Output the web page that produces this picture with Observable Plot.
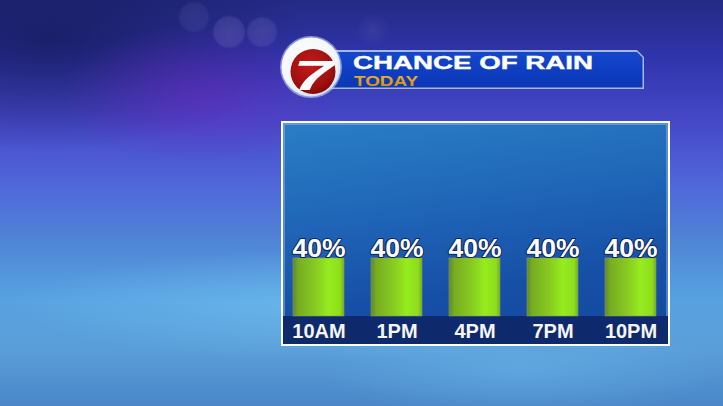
<!DOCTYPE html>
<html>
<head>
<meta charset="utf-8">
<script src="https://cdn.jsdelivr.net/npm/d3@7"></script>
<script src="https://cdn.jsdelivr.net/npm/@observablehq/plot@0.6"></script>
<style>
  html, body { margin: 0; padding: 0; }
  body { width: 723px; height: 406px; overflow: hidden; font-family: "Liberation Sans", Arial, sans-serif; }
  #stage {
    position: relative; width: 723px; height: 406px; overflow: hidden;
    background:
      radial-gradient(ellipse 17px 17px at 229px 32px, rgba(170,150,220,0.22), rgba(170,150,220,0.16) 85%, transparent 100%),
      radial-gradient(ellipse 16px 16px at 262px 32px, rgba(170,150,220,0.20), rgba(170,150,220,0.14) 85%, transparent 100%),
      radial-gradient(ellipse 16px 16px at 194px 17px, rgba(150,140,210,0.14), rgba(150,140,210,0.10) 85%, transparent 100%),
      radial-gradient(ellipse 17px 17px at 373px 30px, rgba(150,140,210,0.12), transparent 100%),
      radial-gradient(ellipse 140px 70px at 200px 95px, rgba(110,40,190,0.50), transparent),
      radial-gradient(ellipse 260px 110px at 50px 40px, rgba(15,20,70,0.6), transparent),
      radial-gradient(ellipse 320px 55px at 330px 305px, rgba(120,200,245,0.5), transparent),
      radial-gradient(ellipse 200px 50px at 520px 370px, rgba(110,190,240,0.4), transparent),
      linear-gradient(180deg, #242a84 0%, #3034aa 14%, #4648c8 30%, #5064d8 44%, #5086d6 60%, #58a2e0 74%, #5a9ed8 86%, #4a86c8 100%);
  }
  #panel {
    position: absolute; left: 281px; top: 121px; width: 389px; height: 225px;
    box-sizing: border-box; border: 2px solid #ffffff;
    background: linear-gradient(172deg, #2a7ec6 0%, #1f64b6 40%, #1650a6 70%, #1448a0 100%);
    box-shadow: inset 0 0 0 2px rgba(160,190,230,0.45);
  }
  #band {
    position: absolute; left: 0; right: 0; top: 193px; height: 28px;
    background: #0f2a6c;
  }
  #banner {
    position: absolute; left: 330px; top: 50px; width: 314px; height: 39px;
    background: #a9b8da;
    clip-path: polygon(0 0, calc(100% - 7px) 0, 100% 7px, 100% 100%, 0 100%);
  }
  #banner-inner {
    position: absolute; left: 0; top: 1.5px; right: 1.5px; bottom: 1.5px;
    background: linear-gradient(180deg, #1446cc 0%, #0e3cc0 60%, #0c38b4 100%);
    clip-path: polygon(0 0, calc(100% - 6px) 0, 100% 6px, 100% 100%, 0 100%);
  }
  svg.overlay { position: absolute; left: 0; top: 0; }
  #chart { position: absolute; left: 0; top: 0; }
</style>
</head>
<body>
<div id="stage">
  <div id="panel"><div id="band"></div></div>
  <div id="banner"><div id="banner-inner"></div></div>
  <svg class="overlay" width="723" height="406" viewBox="0 0 723 406">
    <defs>
      <radialGradient id="ring" cx="45%" cy="40%" r="60%">
        <stop offset="0%" stop-color="#ffffff"/>
        <stop offset="80%" stop-color="#f4f6fb"/>
        <stop offset="100%" stop-color="#cfe0f4"/>
      </radialGradient>
      <radialGradient id="red" cx="45%" cy="35%" r="70%">
        <stop offset="0%" stop-color="#c41a1a"/>
        <stop offset="70%" stop-color="#a01010"/>
        <stop offset="100%" stop-color="#7a0808"/>
      </radialGradient>
      <linearGradient id="gold" x1="0" y1="0" x2="0" y2="1">
        <stop offset="0%" stop-color="#f2b428"/>
        <stop offset="100%" stop-color="#d08a10"/>
      </linearGradient>
    </defs>
    <circle cx="311" cy="67" r="31" fill="#bcd3f0" opacity="0.6"/>
    <circle cx="311" cy="67" r="29.5" fill="url(#ring)"/>
    <circle cx="313" cy="71.5" r="22.5" fill="url(#red)"/>
    <text transform="translate(313,90) scale(1.7,1)" text-anchor="middle" font-family="Liberation Sans" font-weight="bold" font-style="italic" font-size="42" fill="#ffffff">7</text>
    <text x="353" y="69" font-family="Liberation Sans" font-weight="bold" font-size="18.5" fill="#ffffff" stroke="#ffffff" stroke-width="0.4" textLength="240" lengthAdjust="spacingAndGlyphs">CHANCE OF RAIN</text>
    <text x="354" y="86" font-family="Liberation Sans" font-weight="bold" font-size="14.5" fill="url(#gold)" textLength="64" lengthAdjust="spacingAndGlyphs">TODAY</text>
  </svg>
  <div id="chart"></div>
</div>
<script>
const times = ["10AM", "1PM", "4PM", "7PM", "10PM"];
const chances = [40, 40, 40, 40, 40];
const data = times.map((t, i) => ({time: t, chance: chances[i]}));

const chart = Plot.plot({
  width: 723,
  height: 406,
  marginLeft: 292,
  marginRight: 66,
  marginTop: 171,
  marginBottom: 90,
  style: {background: "transparent", overflow: "visible", fontFamily: "Liberation Sans, Arial, sans-serif"},
  x: {domain: times, paddingInner: 0.35, paddingOuter: 0},
  y: {domain: [0, 100], axis: null},
  marks: [
    Plot.barY(data, {x: "time", y: "chance", fill: "url(#barGrad)", stroke: "#8a9a7a", strokeWidth: 0.8, strokeOpacity: 0.7}),
    Plot.text(data, {x: "time", y: "chance", text: d => d.chance + "%", dy: -10, fontSize: 26.5, fontWeight: "bold", fill: "#ffffff", stroke: "#0d2455", strokeWidth: 2}),
    Plot.axisX({tickSize: 0, tickPadding: 7, fontSize: 20, fontWeight: "bold", fill: "#f6f6f6", label: null})
  ]
});
chart.insertAdjacentHTML("afterbegin",
  `<defs><linearGradient id="barGrad" x1="0" y1="0" x2="1" y2="0">
     <stop offset="0%" stop-color="#62862a"/>
     <stop offset="10%" stop-color="#76ac22"/>
     <stop offset="45%" stop-color="#88cc20"/>
     <stop offset="70%" stop-color="#96ec1e"/>
     <stop offset="92%" stop-color="#8ede1c"/>
     <stop offset="100%" stop-color="#76b018"/>
   </linearGradient></defs>`);
document.getElementById("chart").appendChild(chart);
</script>
</body>
</html>
